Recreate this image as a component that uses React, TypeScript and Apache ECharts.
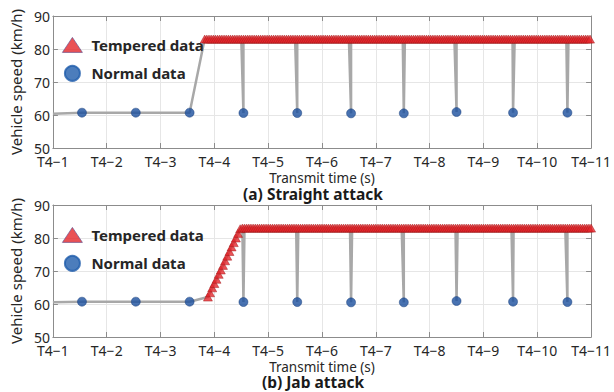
import React, { useEffect, useRef } from "react";
import * as echarts from "echarts";

// ---- data ----
const xTickLabels = ["T4−1", "T4−2", "T4−3", "T4−4", "T4−5", "T4−6", "T4−7", "T4−8", "T4−9", "T4−10", "T4−11"];
const normalTimes = [1.54, 2.54, 3.54, 4.54, 5.54, 6.54, 7.52, 8.5, 9.55, 10.56];
const normalSpeedsA = [60.7, 60.7, 60.7, 60.6, 60.6, 60.5, 60.5, 60.9, 60.7, 60.7];
const normalSpeedsB = [60.7, 60.7, 60.7, 60.6, 60.6, 60.5, 60.5, 60.9, 60.7, 60.6];
const lineStartA = [1.0, 60.4];
const lineStartB = [1.0, 60.5];
const attackPeriod = 0.04; // tempered messages sent every 0.04 s
const attackEnd = 11.0;
const straightStart = 3.82;
const jabStart = 3.88;
const attackSpeed = 83;
const jabRamp = [62.1, 63.4, 64.9, 66.2, 67.5, 69.0, 70.3, 71.7, 73.1, 74.5, 75.9, 77.3, 78.6, 80.0, 81.4, 82.8];

const FONT = "Noto Sans";
const TXT = "#262626";

function attackSeries(start: number, ramp: number[]): number[][] {
  const pts: number[][] = [];
  for (let i = 0; ; i++) {
    const t = Math.round((start + i * attackPeriod) * 1000) / 1000;
    if (t > attackEnd + 1e-6) break;
    pts.push([t, i < ramp.length ? ramp[i] : attackSpeed]);
  }
  return pts;
}

export default function App() {
  const ref = useRef<HTMLDivElement>(null);
  useEffect(() => {
    if (!ref.current) return;
    const chart = echarts.init(ref.current, null, { renderer: "svg" });

    const normalA = normalTimes.map((t, i) => [t, normalSpeedsA[i]]);
    const normalB = normalTimes.map((t, i) => [t, normalSpeedsB[i]]);
    const attackA = attackSeries(straightStart, []);
    const attackB = attackSeries(jabStart, jabRamp);
    const lineA = [lineStartA, ...normalA, ...attackA].sort((a, b) => a[0] - b[0]);
    const lineB = [lineStartB, ...normalB, ...attackB].sort((a, b) => a[0] - b[0]);

    const grids = [
      { left: 44, right: 19, top: 16, height: 132 },
      { left: 44, right: 19, top: 205, height: 132 },
    ];

    const axisColor = "#8c8c8c";
    const xAxes: any[] = [];
    const yAxes: any[] = [];
    [0, 1].forEach((g) => {
      xAxes.push({
        gridIndex: g,
        type: "value",
        min: 1,
        max: 11,
        interval: 1,
        name: "Transmit time (s)",
        nameLocation: "middle",
        nameGap: 23,
        nameTextStyle: { fontFamily: FONT, fontSize: 13.5, color: TXT },
        axisLine: { show: true, lineStyle: { color: axisColor, width: 1 } },
        axisTick: { show: true, inside: true, length: 5, lineStyle: { color: axisColor } },
        axisLabel: {
          fontFamily: FONT,
          fontSize: 14,
          color: TXT,
          margin: 6,
          formatter: (v: number) => xTickLabels[Math.round(v) - 1] ?? "",
        },
        splitLine: { show: true, lineStyle: { color: "#e6e6e6", width: 1 } },
      });
      xAxes.push({
        gridIndex: g,
        type: "value",
        position: "top",
        min: 1,
        max: 11,
        interval: 1,
        axisLine: { show: true, lineStyle: { color: axisColor, width: 1 } },
        axisTick: { show: true, inside: true, length: 5, lineStyle: { color: axisColor } },
        axisLabel: { show: false },
        splitLine: { show: false },
      });
      yAxes.push({
        gridIndex: g,
        type: "value",
        min: 50,
        max: 90,
        interval: 10,
        name: "Vehicle speed (km/h)",
        nameLocation: "middle",
        nameGap: 28,
        nameTextStyle: { fontFamily: FONT, fontSize: 15, color: TXT },
        axisLine: { show: true, lineStyle: { color: axisColor, width: 1 } },
        axisTick: { show: true, inside: true, length: 5, lineStyle: { color: axisColor } },
        axisLabel: { fontFamily: FONT, fontSize: 14, color: TXT, margin: 3 },
        splitLine: { show: true, lineStyle: { color: "#e6e6e6", width: 1 } },
      });
      yAxes.push({
        gridIndex: g,
        type: "value",
        position: "right",
        min: 50,
        max: 90,
        interval: 10,
        axisLine: { show: true, lineStyle: { color: axisColor, width: 1 } },
        axisTick: { show: true, inside: true, length: 5, lineStyle: { color: axisColor } },
        axisLabel: { show: false },
        splitLine: { show: false },
      });
    });

    const mkSeries = (g: number, line: number[][], attack: number[][], normal: number[][]) => [
      {
        type: "line",
        name: "link" + g,
        xAxisIndex: g * 2,
        yAxisIndex: g * 2,
        data: line,
        symbol: "none",
        lineStyle: { color: "#a8a8a8", width: 2.5 },
        z: 2,
        silent: true,
      },
      {
        type: "scatter",
        name: "Tempered data",
        xAxisIndex: g * 2,
        yAxisIndex: g * 2,
        data: attack,
        symbol: "triangle",
        symbolSize: [9, 8],
        clip: false,
        itemStyle: { color: "#e5262a", borderColor: "#a31a1c", borderWidth: 0.6 },
        z: 3,
      },
      {
        type: "scatter",
        name: "Normal data",
        xAxisIndex: g * 2,
        yAxisIndex: g * 2,
        data: normal,
        symbol: "circle",
        symbolSize: 9,
        itemStyle: { color: "#1a4f9e", borderColor: "#163c78", borderWidth: 0.6 },
        z: 4,
      },
    ];

    const legendBase = {
      orient: "vertical",
      left: 57,
      itemWidth: 20,
      itemHeight: 15,
      itemGap: 12,
      selectedMode: false,
      textStyle: { fontFamily: FONT, fontSize: 15, fontWeight: "bold", color: TXT, padding: [0, 0, 0, 4] },
      data: [
        { name: "Tempered data", icon: "triangle", itemStyle: { color: "#e5262a", borderColor: "#5a4a8a", borderWidth: 0.8 } },
        { name: "Normal data", icon: "circle", itemStyle: { color: "#1f5cab", borderColor: "#1f5cab" } },
      ],
    };

    chart.setOption({
      animation: false,
      backgroundColor: "#ffffff",
      grid: grids,
      xAxis: xAxes,
      yAxis: yAxes,
      legend: [
        { ...legendBase, top: 32 },
        { ...legendBase, top: 222 },
      ],
      series: [...mkSeries(0, lineA, attackA, normalA), ...mkSeries(1, lineB, attackB, normalB)],
      graphic: [
        {
          type: "text",
          x: 313,
          y: 194,
          style: {
            text: "(a) Straight attack",
            fontFamily: FONT,
            fontSize: 15.5,
            fontWeight: "bold",
            fill: "#1a1a1a",
            textAlign: "center",
            textVerticalAlign: "middle",
          },
        },
        {
          type: "text",
          x: 313,
          y: 381.5,
          style: {
            text: "(b) Jab attack",
            fontFamily: FONT,
            fontSize: 15.5,
            fontWeight: "bold",
            fill: "#1a1a1a",
            textAlign: "center",
            textVerticalAlign: "middle",
          },
        },
      ],
    });
    return () => chart.dispose();
  }, []);

  return (
    <div
      ref={ref}
      style={{ position: "fixed", left: 0, top: 0, width: 614, height: 392, background: "#fff" }}
    />
  );
}
